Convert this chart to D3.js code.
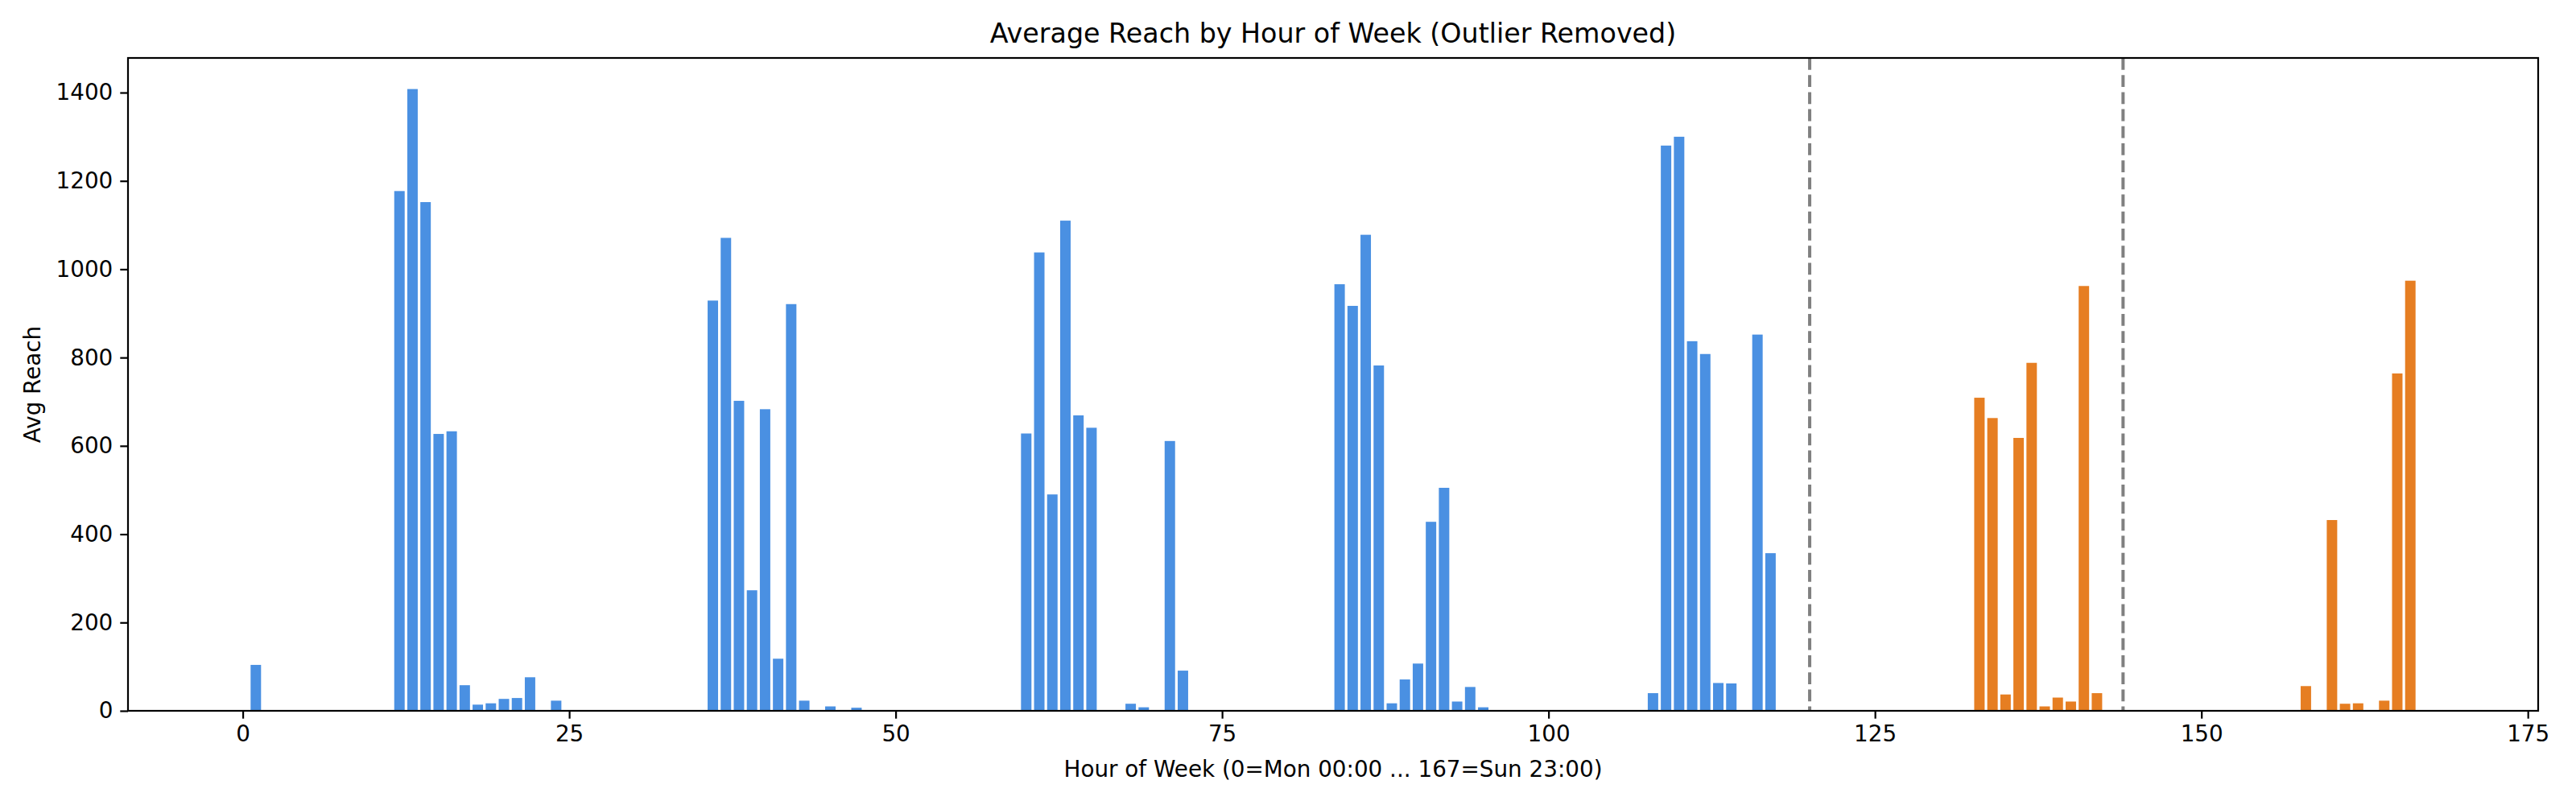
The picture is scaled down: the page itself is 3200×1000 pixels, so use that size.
<!DOCTYPE html>
<html>
<head>
<meta charset="UTF-8">
<title>Average Reach by Hour of Week</title>
<style>
  body { margin: 0; background: #fff; }
  text { font-family: "DejaVu Sans", sans-serif; fill: #000; }
</style>
</head>
<body>
<svg id="chart" width="3200" height="1000"></svg>
<script src="https://cdn.jsdelivr.net/npm/d3@7"></script>
<script>
// hours with non-zero reach and their average reach
const hours = [1, 12, 13, 14, 15, 16, 17, 18, 19, 20, 21, 22, 24,
  36, 37, 38, 39, 40, 41, 42, 43, 45, 47,
  60, 61, 62, 63, 64, 65, 68, 69, 71, 72,
  84, 85, 86, 87, 88, 89, 90, 91, 92, 93, 94, 95,
  108, 109, 110, 111, 112, 113, 114, 116, 117,
  133, 134, 135, 136, 137, 138, 139, 140, 141, 142,
  158, 160, 161, 162, 164, 165, 166];
const reach = [104, 1177, 1408, 1152, 627, 633, 58, 14, 17, 27, 29, 76, 23,
  929, 1071, 702, 273, 683, 118, 921, 23, 10, 7,
  628, 1038, 490, 1110, 669, 641, 16, 8, 611, 91,
  966, 917, 1078, 782, 17, 71, 107, 428, 505, 21, 54, 8,
  40, 1280, 1300, 837, 808, 63, 62, 852, 357,
  709, 663, 37, 618, 788, 10, 30, 21, 962, 40,
  56, 432, 16, 17, 23, 764, 974];
const weekendStart = 120;
const dividers = [120, 144];
const xTicks = [0, 25, 50, 75, 100, 125, 150, 175];
const yTicks = [0, 200, 400, 600, 800, 1000, 1200, 1400];

const data = hours.map((h, i) => ({ hour: h, value: reach[i] }));

const svg = d3.select('#chart'),
    margin = { left: 159, right: 47, top: 72, bottom: 117 },
    width = +svg.attr('width') - margin.left - margin.right,
    height = +svg.attr('height') - margin.top - margin.bottom;

const g = svg.append('g').attr('transform', `translate(${margin.left},${margin.top})`);

// matplotlib-style 5% margins around bars spanning -0.4 .. 167.4
const lo = -0.4, hi = 167.4, pad = (hi - lo) * 0.05;
const x = d3.scaleLinear().domain([lo - pad, hi + pad]).range([0, width]);
const yMax = d3.max(reach) * 1.05;
const y = d3.scaleLinear().domain([0, yMax]).range([height, 0]);

const barW = x(0.8) - x(0);
g.selectAll('rect.bar')
  .data(data)
  .enter().append('rect')
    .attr('class', 'bar')
    .attr('x', d => x(d.hour - 0.4))
    .attr('width', barW)
    .attr('y', d => y(d.value))
    .attr('height', d => height - y(d.value))
    .attr('fill', d => d.hour >= weekendStart ? '#e67e22' : '#4a90e2');

g.selectAll('line.divider')
  .data(dividers)
  .enter().append('line')
    .attr('class', 'divider')
    .attr('x1', d => x(d)).attr('x2', d => x(d))
    .attr('y1', 0).attr('y2', height)
    .attr('stroke', '#808080')
    .attr('stroke-width', 4)
    .attr('stroke-dasharray', '14.8,6.4');

const xAxis = g.append('g')
  .attr('transform', `translate(0,${height})`)
  .call(d3.axisBottom(x).tickValues(xTicks).tickSize(9.7).tickPadding(9).tickFormat(d3.format('d')));
const yAxis = g.append('g')
  .call(d3.axisLeft(y).tickValues(yTicks).tickSize(9.7).tickPadding(9).tickFormat(d3.format('d')));

[xAxis, yAxis].forEach(a => {
  a.select('.domain').remove();
  a.selectAll('.tick line').attr('stroke', '#000').attr('stroke-width', 2.2);
  a.selectAll('.tick text').style('font-size', '27.8px').attr('fill', '#000');
});

g.append('rect')
  .attr('width', width).attr('height', height)
  .attr('fill', 'none').attr('stroke', '#000').attr('stroke-width', 2.2);

svg.append('text')
  .attr('x', margin.left + width / 2).attr('y', 53)
  .attr('text-anchor', 'middle')
  .style('font-size', '33.3px')
  .text('Average Reach by Hour of Week (Outlier Removed)');

svg.append('text')
  .attr('x', margin.left + width / 2).attr('y', 965)
  .attr('text-anchor', 'middle')
  .style('font-size', '27.8px')
  .text('Hour of Week (0=Mon 00:00 ... 167=Sun 23:00)');

svg.append('text')
  .attr('transform', `translate(50,${margin.top + height / 2}) rotate(-90)`)
  .attr('text-anchor', 'middle')
  .style('font-size', '27.8px')
  .text('Avg Reach');
</script>
</body>
</html>
